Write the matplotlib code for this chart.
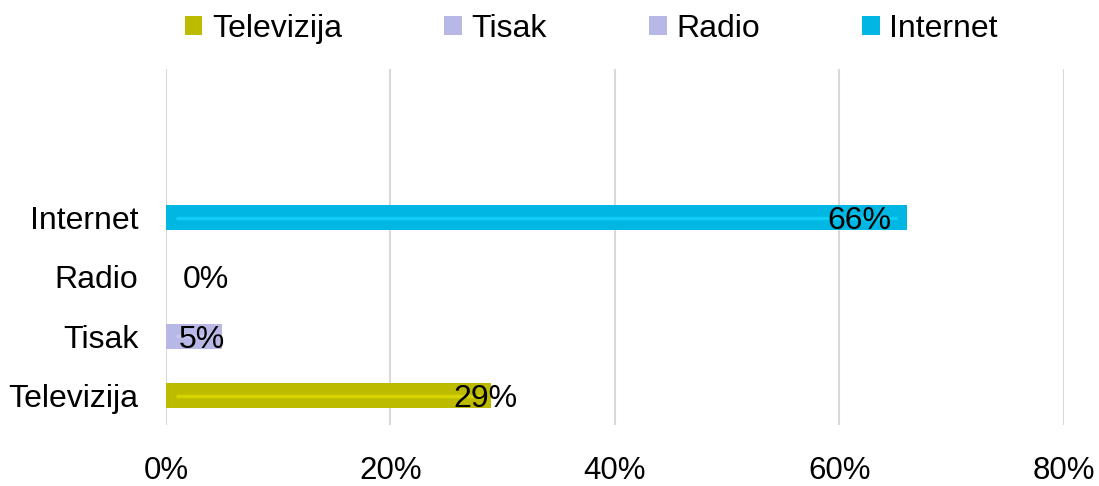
import matplotlib
matplotlib.use("Agg")
import matplotlib.pyplot as plt
from matplotlib.patches import Patch

plt.rcParams["font.family"] = ["Liberation Sans", "DejaVu Sans"]

# podaci
categories = ["Televizija", "Tisak", "Radio", "Internet"]
values = [29, 5, 0, 66]
colors = ["#BDBB00", "#B8B8E6", "#B8B8E6", "#00B7E3"]
shine = ["#D6D400", "#C6C6EE", "#C6C6EE", "#11CCF5"]
label_x = [25.6, 1.1, 1.5, 58.9]
xticks = [0, 20, 40, 60, 80]

fig = plt.figure(figsize=(10.99, 4.86), dpi=100)
ax = fig.add_axes([0.151, 0.1247, 0.817, 0.7333])

ypos = list(range(len(categories)))
ax.barh(ypos, values, height=0.42, color=colors, zorder=2)
for y, v, c in zip(ypos, values, shine):
    if v > 2:
        ax.plot([0.9, v - 0.9], [y, y], color=c, lw=2.5, zorder=3,
                solid_capstyle="butt")
for y, v, lx in zip(ypos, values, label_x):
    ax.text(lx, y, f"{v}%", ha="left", va="center_baseline", fontsize=23,
            color="black", zorder=4)

ax.set_xlim(0, 80)
ax.set_ylim(-0.5, 5.5)
ax.set_xticks(xticks)
ax.set_xticklabels([f"{t}%" for t in xticks])
ax.set_yticks(ypos)
ax.set_yticklabels(categories)
ax.tick_params(axis="x", length=0, pad=22, labelsize=22.5)
ax.tick_params(axis="y", length=0, pad=20, labelsize=23)
ax.grid(axis="x", color="#D9D9D9", lw=1.5, zorder=0)
for s in ax.spines.values():
    s.set_visible(False)

handles = [Patch(facecolor=c, edgecolor="none") for c in colors]
fig.legend(handles, categories, loc="center", bbox_to_anchor=(0.538, 0.94), ncol=4,
           frameon=False, fontsize=23, handlelength=0.55, handleheight=0.55,
           handletextpad=0.3, columnspacing=3.2)

fig.savefig("out.png", dpi=100, facecolor="white")
